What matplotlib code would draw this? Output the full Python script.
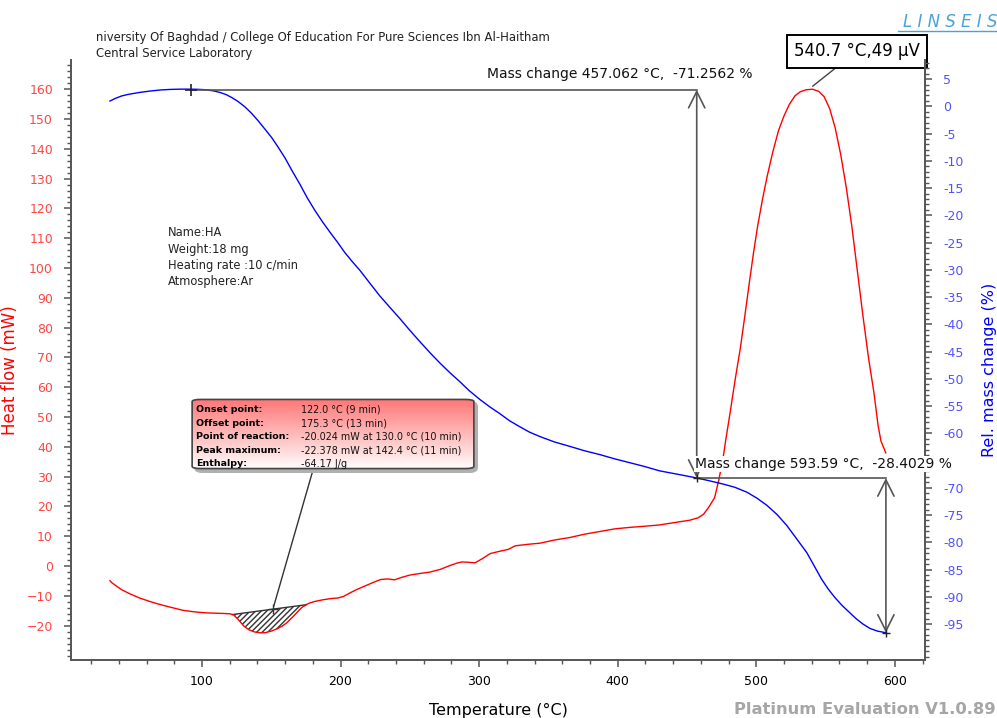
import numpy as np
import matplotlib
matplotlib.use("Agg")
import matplotlib.pyplot as plt
from matplotlib.patches import FancyBboxPatch
from matplotlib.ticker import MultipleLocator, FixedLocator

# ---------------- data ----------------
# DSC heat flow (mW) vs temperature (°C)
hf_T = [33.6, 35, 38, 42, 48, 55, 62, 67.5, 74, 80, 86, 92, 98, 103.6, 110, 116, 120.2, 123,
        126, 130.0, 134, 138, 142.4, 146, 150, 154, 158, 161.3, 165, 168.5, 172, 176.5, 181,
        187.3, 193, 198, 202, 206.8, 212, 218, 224, 229, 234, 239, 244, 250, 257, 264.5, 272,
        279, 284, 287.6, 292, 297, 302, 308, 315, 321, 326, 335, 344, 355, 365.5, 376, 387,
        398, 409, 420, 430, 441, 452, 458, 462, 465.8, 470, 473, 476, 478, 481, 484.6, 488.5,
        491.8, 495, 498, 501, 504.5, 508, 512, 516, 520, 524, 528, 532, 536, 540.7, 545, 549,
        553, 557, 561, 565, 569, 573, 577, 581, 585, 588, 590, 593.5]
hf_val = [-4.9, -5.6, -6.6, -7.9, -9.3, -10.7, -11.8, -12.6, -13.4, -14.1, -14.8, -15.2, -15.5,
          -15.7, -15.8, -15.9, -16.0, -16.4, -17.8, -20.0, -21.4, -22.1, -22.4, -22.3, -21.8,
          -21.1, -20.1, -19.0, -17.3, -15.6, -13.9, -12.6, -11.9, -11.3, -10.9, -10.7, -10.2,
          -9.0, -7.8, -6.6, -5.4, -4.5, -4.3, -4.6, -3.8, -3.0, -2.5, -2.0, -1.1, 0.2, 1.0,
          1.4, 1.3, 1.1, 2.4, 4.2, 5.0, 5.6, 6.8, 7.3, 7.7, 8.8, 9.6, 10.7, 11.6, 12.5, 13.0,
          13.4, 13.8, 14.6, 15.4, 16.2, 17.4, 19.8, 23.0, 28.9, 36.0, 42.3, 51.0, 62.0, 73.0,
          84.0, 95.0, 105.0, 114.0, 123.0, 131.0, 139.0, 146.0, 151.0, 155.0, 157.8, 159.2,
          159.8, 160.0, 159.3, 157.5, 153.5, 147.0, 138.0, 127.0, 114.0, 99.0, 84.0, 70.0,
          58.0, 47.0, 42.0, 38.0]

# TG relative mass change (%) vs temperature (°C)
tg_T = [33.6, 37, 42, 47, 55, 62.5, 70, 77, 84, 90.6, 97, 102, 108, 113, 117.5, 121.6, 126,
        131, 135.5, 140.4, 145.5, 150.5, 155, 160, 165, 170.7, 176, 181.5, 187, 192.4, 198,
        203, 208.5, 214, 221, 228.4, 236, 243, 250, 257, 264.5, 271.7, 279, 286, 293, 300.6,
        308, 315, 322, 329.4, 336.5, 343.9, 354.5, 365.5, 376, 387, 398, 408.8, 419.5, 430.4,
        445, 457.062, 466, 475.9, 484.5, 493.2, 500.5, 507.6, 515, 522, 529, 536.5, 542, 547,
        552, 557, 562, 567, 572, 577, 582, 587.5, 593.59]
tg_val = [0.96, 1.4, 1.9, 2.2, 2.55, 2.8, 3.0, 3.1, 3.15, 3.15, 3.12, 3.05, 2.85, 2.55, 2.15,
          1.6, 0.9, -0.1, -1.2, -2.6, -4.2, -5.8, -7.5, -9.5, -11.8, -14.3, -16.8, -19.1,
          -21.2, -23.1, -25.0, -26.8, -28.5, -30.1, -32.4, -34.8, -37.0, -39.0, -41.1, -43.1,
          -45.2, -47.1, -48.9, -50.5, -52.2, -53.8, -55.2, -56.4, -57.7, -58.8, -59.8, -60.6,
          -61.6, -62.4, -63.2, -63.9, -64.7, -65.4, -66.1, -66.9, -67.6, -68.2, -68.7, -69.3,
          -69.9, -70.8, -71.9, -73.2, -74.9, -76.9, -79.3, -81.9, -84.4, -86.7, -88.6, -90.2,
          -91.6, -92.8, -94.0, -95.0, -95.8, -96.3, -96.6]

# mass-change evaluation points
mc_T = [92.0, 457.062, 593.59]
mc_val = [3.05, -68.2062, -96.6091]
mc_labels = ["Mass change 457.062 °C,  -71.2562 %", "Mass change 593.59 °C,  -28.4029 %"]

# DSC peak evaluation
onset_T, offset_T = 122.0, 175.3
peak_T, peak_label = 540.7, "540.7 °C,49 µV"
box_keys = ["Onset point:", "Offset point:", "Point of reaction:", "Peak maximum:", "Enthalpy:"]
box_vals = ["122.0 °C (9 min)", "175.3 °C (13 min)", "-20.024 mW at 130.0 °C (10 min)",
            "-22.378 mW at 142.4 °C (11 min)", "-64.17 J/g"]
info_lines = ["Name:HA", "Weight:18 mg", "Heating rate :10 c/min", "Atmosphere:Ar"]
header_lines = ["niversity Of Baghdad / College Of Education For Pure Sciences Ibn Al-Haitham",
                "Central Service Laboratory"]

left_ticks = list(range(-20, 161, 10))
right_ticks = list(range(-95, 6, 5))
x_ticks = [100, 200, 300, 400, 500, 600]

# ---------------- figure ----------------
W, H = 997, 718
fig = plt.figure(figsize=(W / 100, H / 100), dpi=100)
fig.patch.set_facecolor("white")

def fx(px):
    return px / W

def fy(py):
    return 1 - py / H

ax_w = fx(925) - fx(71)
ax = fig.add_axes([fx(71), fy(660), ax_w, fy(60) - fy(660)])
ax2 = ax.twinx()

RED = "#ff0000"
BLUE = "#0000ff"
RED_T = "#ff4545"
BLUE_T = "#5252ff"
SP = "#555555"

ax.set_xlim(5.5, 621.8)
ax.set_ylim(-31.5, 169.8)
ax2.set_ylim(-101.6, 8.5)

for a in (ax, ax2):
    a.spines["top"].set_visible(False)
    for s in a.spines.values():
        s.set_color(SP)
        s.set_linewidth(1.4)
ax.spines["right"].set_visible(False)
ax2.spines["left"].set_visible(False)
ax2.spines["bottom"].set_visible(False)

ax.xaxis.set_major_locator(FixedLocator(x_ticks))
ax.xaxis.set_minor_locator(MultipleLocator(20))
ax.yaxis.set_major_locator(FixedLocator(left_ticks))
ax.yaxis.set_minor_locator(MultipleLocator(2))
ax2.yaxis.set_major_locator(FixedLocator(right_ticks))
ax2.yaxis.set_minor_locator(MultipleLocator(1))
ax2.set_yticklabels(["" if v == -65 else str(v) for v in right_ticks])

ax.tick_params(axis="x", which="major", length=5, width=1.1, color=SP, labelsize=9, pad=6)
ax.tick_params(axis="x", which="minor", length=3, width=1.0, color=SP)
ax.tick_params(axis="y", which="major", length=5, width=1.1, color=SP, labelsize=9,
               labelcolor=RED_T, pad=8)
ax.tick_params(axis="y", which="minor", length=3, width=1.0, color=SP)
ax2.tick_params(axis="y", which="major", length=5, width=1.1, color=SP, labelsize=9,
                labelcolor=BLUE_T, pad=8)
ax2.tick_params(axis="y", which="minor", length=3, width=1.0, color=SP)

ax.set_xlabel("Temperature (°C)", fontsize=11.5)
ax.xaxis.set_label_coords(0.5, -(703 - 660) / 600)
ax.set_ylabel("Heat flow (mW)", fontsize=12, color=RED)
ax.yaxis.set_label_coords((19 - 71) / 854, 0.5 - 10 / 600)
ax2.set_ylabel("Rel. mass change (%)", fontsize=11.5, color=BLUE)
ax2.yaxis.set_label_coords((982 - 71) / 854, 0.5 - 10 / 600)

# ---- curves ----
ax.plot(hf_T, hf_val, color=RED, lw=1.0, zorder=3)
ax2.plot(tg_T, tg_val, color=BLUE, lw=1.0, zorder=3)

# hatched peak area between baseline and DSC curve
hT = np.array(hf_T)
hv = np.array(hf_val)
y_on = np.interp(onset_T, hT, hv)
y_off = np.interp(offset_T, hT, hv)
Tfill = np.linspace(onset_T, offset_T, 120)
curve = np.interp(Tfill, hT, hv)
base = np.interp(Tfill, [onset_T, offset_T], [y_on, y_off])
ax.fill_between(Tfill, curve, base, facecolor="none", edgecolor="#333333", hatch="//////",
                lw=0, zorder=2)
ax.plot([onset_T, offset_T], [y_on, y_off], color="#333333", lw=1.0, zorder=2)

# connector from result box to peak area
mid_T = 151.2
mid_y = np.interp(mid_T, [onset_T, offset_T], [y_on, y_off])
ax.annotate("", xy=(mid_T, mid_y), xycoords="data",
            xytext=(fx(313), fy(470)), textcoords="figure fraction",
            arrowprops=dict(arrowstyle="-", color="#333333", lw=1.0), zorder=5)
ax.plot([mid_T], [mid_y], marker="+", color="#333333", ms=7, mew=1.0, zorder=5)

# peak label
ax.annotate(peak_label, xy=(peak_T, np.interp(peak_T, hT, hv) + 1), xycoords="data",
            xytext=(fx(857), fy(51)), textcoords="figure fraction",
            ha="center", va="center", fontsize=12, color="black",
            bbox=dict(boxstyle="square,pad=0.45", fc="white", ec="black", lw=1.4),
            arrowprops=dict(arrowstyle="-", color="#444444", lw=1.0,
                            shrinkA=0, shrinkB=0), zorder=6, annotation_clip=False)

# mass change evaluation lines
GR = "#555555"
ax2.plot([mc_T[0], mc_T[1]], [mc_val[0], mc_val[0]], color=GR, lw=1.2, zorder=4)
ax2.plot([mc_T[1], mc_T[2]], [mc_val[1], mc_val[1]], color=GR, lw=1.2, zorder=4)
for i in range(2):
    ax2.annotate("", xy=(mc_T[i + 1], mc_val[i + 1]), xytext=(mc_T[i + 1], mc_val[i]),
                 arrowprops=dict(arrowstyle="<->,head_length=0.9,head_width=0.45",
                                 color=GR, lw=1.2, shrinkA=0, shrinkB=0,
                                 mutation_scale=13), zorder=4)
ax2.plot([mc_T[0]], [mc_val[0]], marker="+", color="#222222", ms=9, mew=1.2, zorder=5)
ax2.plot([mc_T[1]], [mc_val[1]], marker="+", color="#222222", ms=6, mew=1.0, zorder=5)
ax2.plot([mc_T[2]], [mc_val[2]], marker="+", color="#222222", ms=6, mew=1.0, zorder=5)

ax2.text(305.6, 5.9, mc_labels[0], fontsize=10, ha="left", va="center", color="#111111",
         zorder=7)
ax2.text(455.7, -65.6, mc_labels[1], fontsize=10, ha="left", va="center", color="#111111",
         zorder=7, bbox=dict(boxstyle="square,pad=0.05", fc="white", ec="none"))

# sample info
for i, line in enumerate(info_lines):
    fig.text(fx(168), fy(233 + i * 16.3), line, fontsize=8.3, color="#222222",
             ha="left", va="center")

# header
for i, line in enumerate(header_lines):
    fig.text(fx(96), fy(37 + i * 16), line, fontsize=8.4, color="#222222",
             ha="left", va="center")

# LINSEIS logo
fig.text(fx(903), fy(22), "L I N S E I S", fontsize=12, style="italic", color="#4aa3d8",
         ha="left", va="center", fontweight="light")
fig.add_artist(plt.Line2D([fx(898), fx(997)], [fy(31), fy(31)], color="#4aa3d8", lw=1.0))

# watermark
fig.text(fx(996), fy(710), "Platinum Evaluation V1.0.89", fontsize=11.8, fontweight="bold",
         color="#a6a6a6", ha="right", va="center")

# result box with gradient
bx0, by0, bx1, by1 = 191, 398, 475, 470
shadow = FancyBboxPatch((fx(bx0 + 3), fy(by1 + 3)), fx(bx1) - fx(bx0), fy(by0) - fy(by1),
                        boxstyle="round,pad=0,rounding_size=0.008", transform=fig.transFigure,
                        fc="#b0b0b0", ec="none", zorder=8)
fig.add_artist(shadow)
bax = fig.add_axes([fx(bx0), fy(by1), fx(bx1) - fx(bx0), fy(by0) - fy(by1)], zorder=10)
bax.set_axis_off()
grad = np.linspace(0, 1, 100).reshape(-1, 1)
top_c = np.array([1.0, 0.45, 0.45])
bot_c = np.array([1.0, 1.0, 1.0])
img = top_c[None, None, :] * (1 - grad[:, :, None]) + bot_c[None, None, :] * grad[:, :, None]
im = bax.imshow(img, extent=(0, 1, 0, 1), aspect="auto", origin="upper")
patch = FancyBboxPatch((0.004, 0.02), 0.992, 0.96,
                       boxstyle="round,pad=0,rounding_size=0.03", transform=bax.transAxes,
                       fc="none", ec="#444444", lw=1.2,
                       mutation_aspect=(fy(by0) - fy(by1)) / (fx(bx1) - fx(bx0)) * (H / W) * 4)
bax.add_patch(patch)
im.set_clip_path(patch)
bax.set_xlim(0, 1)
bax.set_ylim(0, 1)
for i, (k, v) in enumerate(zip(box_keys, box_vals)):
    yy = 1 - (410 + i * 13.4 - by0) / (by1 - by0)
    bax.text((196 - bx0) / (bx1 - bx0), yy, k, fontsize=6.8, fontweight="bold",
             ha="left", va="center", color="black", transform=bax.transAxes)
    bax.text((301 - bx0) / (bx1 - bx0), yy, v, fontsize=6.9, ha="left", va="center",
             color="#111111", transform=bax.transAxes)

fig.savefig("out.png", dpi=100)
